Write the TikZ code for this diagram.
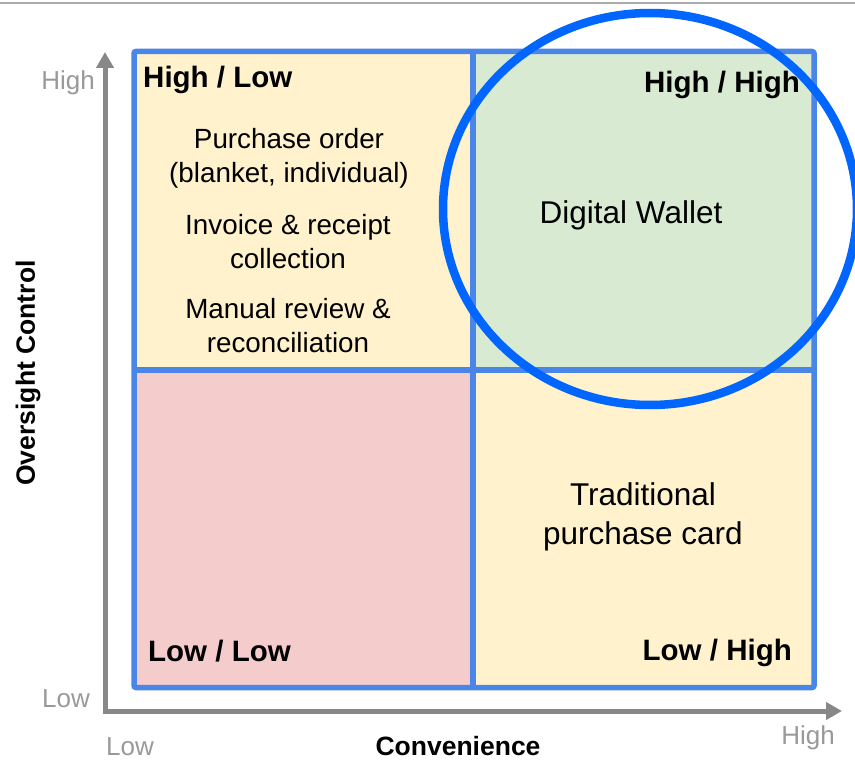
\documentclass[tikz,border=0pt]{standalone}
\usepackage{fontspec}
\setmainfont{Liberation Sans}
\usetikzlibrary{arrows.meta}
\definecolor{gridblue}{HTML}{4A86E8}
\definecolor{ringblue}{HTML}{0066FF}
\definecolor{cellyellow}{HTML}{FFF2CC}
\definecolor{cellgreen}{HTML}{D9EAD3}
\definecolor{cellred}{HTML}{F4CCCC}
\definecolor{axisgray}{HTML}{888888}
\definecolor{tickgray}{HTML}{999999}
\tikzset{
  axis/.style={draw=axisgray, line width=5pt,
    {Triangle[length=16pt,width=17pt]}-{Triangle[length=16pt,width=17pt]}},
  ticklabel/.style={text=tickgray, font=\fontsize{26}{30}\selectfont, inner sep=0pt},
  axislabel/.style={font=\bfseries\fontsize{26.5}{30}\selectfont, inner sep=0pt},
  cornerlabel/.style={font=\bfseries\fontsize{29.5}{32}\selectfont, inner sep=0pt},
  bodytext/.style={align=center, font=\fontsize{27.8}{34}\selectfont, inner sep=0pt},
  bigtext/.style={align=center, font=\fontsize{31.5}{39}\selectfont, inner sep=0pt},
  gridline/.style={draw=gridblue, line width=5.5pt},
}
\begin{document}
\begin{tikzpicture}[x=1pt,y=-1pt]
\useasboundingbox (0,0) rectangle (855,760);
% thin rule along the top edge
\draw[color=black!33, line width=2pt] (0,3) -- (855,3);

% quadrant fills
\fill[cellyellow] (134,51.5) rectangle (473,370);
\fill[cellgreen]  (473,51.5) rectangle (814,370);
\fill[cellred]    (134,370) rectangle (473,687.5);
\fill[cellyellow] (473,370) rectangle (814,687.5);

% grid
\draw[gridline, rounded corners=2pt] (134,51.5) rectangle (814,687.5);
\draw[gridline] (473,51.5) -- (473,687.5);
\draw[gridline] (134,370) -- (814,370);

% axes
\coordinate (ytip) at (105,52);
\coordinate (origin) at (105,711);
\coordinate (xtip) at (842,711);
\draw[axis] (ytip) -- (origin) -- (xtip);

% axis end labels
\node[ticklabel] (yhigh) at (68,83) {High};
\node[ticklabel] (ylow) at (66,699) {Low};
\node[ticklabel] (xlow) at (130,747) {Low};
\node[ticklabel] (xhigh) at (808,738) {High};
\node[axislabel, rotate=90] (ylabel) at (28,373) {Oversight Control};
\node[axislabel] (xlabel) at (458,746) {Convenience};

% quadrant labels
\node[cornerlabel, anchor=west] (hl) at (143,80) {High / Low};
\node[cornerlabel, anchor=east] (hh) at (800,85) {High / High};
\node[cornerlabel, anchor=west] (ll) at (148,651) {Low / Low};
\node[cornerlabel, anchor=east] (lh) at (792,653) {Low / High};

% quadrant contents
\node[bodytext] (po) at (289,158) {Purchase order\\(blanket, individual)};
\node[bodytext] (inv) at (288,242) {Invoice \& receipt\\collection};
\node[bodytext] (rev) at (288,325.5) {Manual review \&\\reconciliation};
\node[bigtext] (wallet) at (631,215) {Digital Wallet};
\node[bigtext] (card) at (643,516.5) {Traditional\\purchase card};

% highlight ring
\draw[draw=ringblue, line width=8.5pt] (650,209) ellipse [x radius=207, y radius=196];
\end{tikzpicture}
\end{document}
